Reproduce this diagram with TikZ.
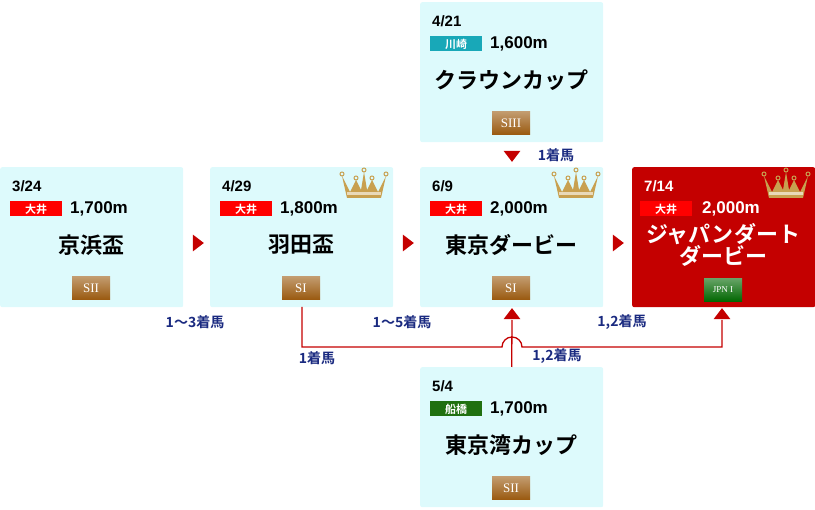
\documentclass[tikz,border=0pt]{standalone}
\usepackage{fontspec}
\setmainfont{Liberation Sans}
\newfontfamily\jp{Noto Sans CJK JP}[BoldFont={Noto Sans CJK JP Bold}]
\newfontfamily\grd{Liberation Serif}
\usetikzlibrary{shapes.geometric}
\definecolor{boxbg}{HTML}{DDFAFC}
\definecolor{redbox}{HTML}{C40000}
\definecolor{navy}{HTML}{1A2A80}
\definecolor{gold}{HTML}{C8A050}
\definecolor{goldd}{HTML}{9A5A10}
\definecolor{kawa}{HTML}{18A8B8}
\definecolor{funa}{HTML}{207010}
\tikzset{
 race/.style={fill=boxbg, rounded corners=2pt, minimum width=183pt, minimum height=140pt, anchor=north west, inner sep=0pt},
 date/.style={font=\bfseries\fontsize{15}{15}\selectfont, anchor=west, inner sep=0pt},
 venue/.style={fill=#1, text=white, font=\jp\bfseries\fontsize{11}{11}\selectfont, minimum width=52pt, minimum height=15pt, inner sep=0pt, anchor=west},
 dist/.style={font=\bfseries\fontsize{17}{17}\selectfont, anchor=west, inner sep=0pt},
 rname/.style={font=\jp\bfseries\fontsize{22}{22}\selectfont, align=center, inner sep=0pt},
 grade/.style={top color=#1!60!white, bottom color=#1, text=white, font=\grd\fontsize{13}{13}\selectfont, minimum width=38pt, minimum height=23pt, inner sep=0pt},
 tri/.style={fill=redbox, draw=none, isosceles triangle, isosceles triangle apex angle=75, inner sep=0pt, minimum height=11pt, minimum width=14pt},
 lbl/.style={text=navy, font=\jp\bfseries\fontsize{14}{14}\selectfont, inner sep=0pt},
 link/.style={draw=redbox, line width=1.3pt},
}
\newcommand{\crownat}[1]{%
 \begin{scope}[shift={#1}]
 \fill[gold] (-22,-10) -- (-14,6) -- (-8,-6) -- (-3,4) -- (0,-14) -- (3,4) -- (8,-6) -- (14,6) -- (22,-10) -- (17,12) -- (-17,12) -- cycle;
 \fill[white!60!gold] (-17,6) rectangle (17,9);
 \foreach \p in {(-22,-12),(-8,-8),(0,-16),(8,-8),(22,-12)} \draw[gold,line width=1pt] \p circle (2pt);
 \end{scope}}
\begin{document}
\begin{tikzpicture}[x=1pt,y=-1pt]
\useasboundingbox (0,0) rectangle (815,510);
% boxes
\node[race] (b1) at (0,167) {};
\node[race] (b2) at (210,167) {};
\node[race] (b3) at (420,167) {};
\node[race, fill=redbox] (b4) at (632,167) {};
\node[race] (bt) at (420,2) {};
\node[race] (bb) at (420,367) {};
% crowns
\crownat{(364,186)}
\crownat{(576,186)}
\crownat{(786,186)}
% contents
\foreach \n/\x/\y/\d/\v/\vc/\di/\nm/\g in {
  b1/10/167/3\slash 24/大井/red/{1,700m}/京浜盃/SII,
  b2/220/167/4\slash 29/大井/red/{1,800m}/羽田盃/SI,
  b3/430/167/6\slash 9/大井/red/{2,000m}/東京ダービー/SI,
  bt/430/2/4\slash 21/川崎/kawa/{1,600m}/クラウンカップ/SIII,
  bb/430/367/5\slash 4/船橋/funa/{1,700m}/東京湾カップ/SII}{
  \node[date] (\n-d) at (\x+2,\y+19) {\d};
  \node[venue=\vc] (\n-v) at (\x,\y+42) {\v};
  \node[dist] (\n-di) at (\x+60,\y+42) {\di};
  \node[rname] (\n-n) at (\x+81,\y+78) {\nm};
  \node[grade=goldd] (\n-g) at (\x+81,\y+121) {\g};
}
\node[date, text=white] (b4-d) at (644,186) {7/14};
\node[venue=red] (b4-v) at (640,209) {大井};
\node[dist, text=white] (b4-di) at (702,209) {2,000m};
\node[rname, text=white, font=\jp\bfseries\fontsize{22}{20}\selectfont] (b4-n) at (723,245) {ジャパンダート\\ダービー};
\node[grade=green!40!black, font=\grd\fontsize{9}{9}\selectfont] (b4-g) at (723,290) {JPN I};
% arrows between boxes
\node[tri] (t1) at (197,243) {};
\node[tri] (t2) at (407,243) {};
\node[tri] (t3) at (617,243) {};
\node[tri, shape border rotate=-90] (t4) at (512,155) {};
% lines
\coordinate (s2) at (302,307);
\draw[link] (s2) -- (302,347) -- (502,347) arc[start angle=180, end angle=360, radius=10] -- (722,347) -- (722,320);
\draw[link] (bb.north) -- (512,320);
\node[tri, shape border rotate=90] (t5) at (512,315) {};
\node[tri, shape border rotate=90] (t6) at (722,315) {};
% labels
\node[lbl] (l1) at (195,322) {1〜3着馬};
\node[lbl] (l2) at (402,322) {1〜5着馬};
\node[lbl] (l3) at (622,322) {1,2着馬};
\node[lbl] (l4) at (317,358) {1着馬};
\node[lbl] (l5) at (557,356) {1,2着馬};
\node[lbl] (l6) at (556,155) {1着馬};
\end{tikzpicture}
\end{document}
